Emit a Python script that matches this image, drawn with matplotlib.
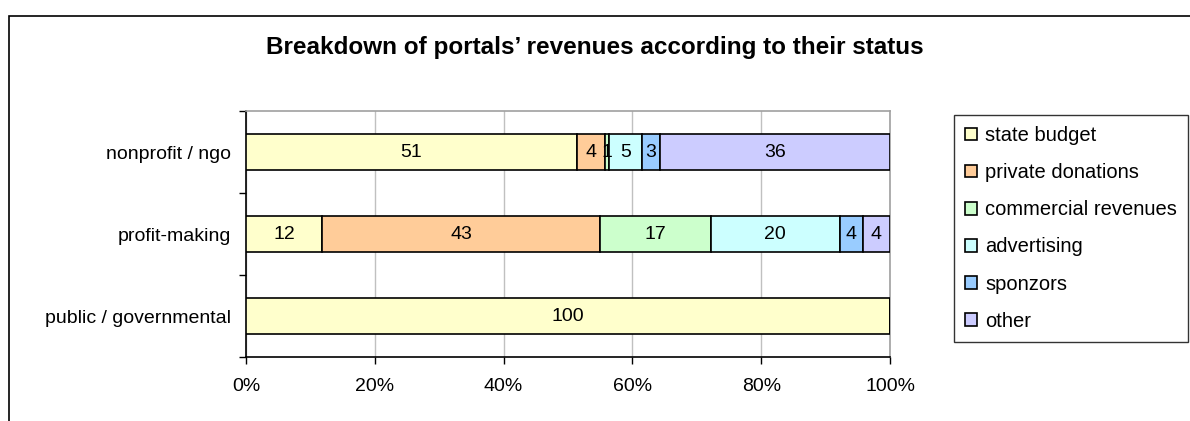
import matplotlib.pyplot as plt
from matplotlib.patches import Patch, Rectangle

plt.rcParams['font.family'] = ['Liberation Sans', 'DejaVu Sans']

# categories (bottom to top) and revenue shares in %
categories = ['public / governmental', 'profit-making', 'nonprofit / ngo']
sources = ['state budget', 'private donations', 'commercial revenues',
           'advertising', 'sponzors', 'other']
colors = ['#FFFFCC', '#FFCC99', '#CCFFCC', '#CCFFFF', '#99CCFF', '#CCCCFF']

state_budget = [100, 11.8, 51.4]
private_donations = [0, 43.2, 4.3]
commercial_revenues = [0, 17.2, 0.6]
advertising = [0, 20.0, 5.2]
sponsors = [0, 3.6, 2.8]
other = [0, 4.2, 35.7]

series = [state_budget, private_donations, commercial_revenues,
          advertising, sponsors, other]

fig = plt.figure(figsize=(11.9, 4.21), dpi=100)
ax = fig.add_axes([0.2067, 0.152, 0.5412, 0.5843])

y = list(range(len(categories)))
left = [0] * len(categories)
for vals, col in zip(series, colors):
    bars = ax.barh(y, vals, left=left, height=0.43, color=col,
                   edgecolor='black', linewidth=1.2, zorder=3)
    for b, v in zip(bars, vals):
        if v > 0:
            ax.text(b.get_x() + b.get_width() / 2, b.get_y() + b.get_height() / 2,
                    f'{round(v):d}', ha='center', va='center', fontsize=14,
                    zorder=4)
    left = [l + v for l, v in zip(left, vals)]

ax.set_xlim(0, 100)
ax.set_ylim(-0.5, 2.5)
ax.set_xticks([0, 20, 40, 60, 80, 100])
ax.set_xticklabels(['0%', '20%', '40%', '60%', '80%', '100%'], fontsize=14)
ax.tick_params(axis='x', length=5, width=1, direction='out', pad=10)
ax.xaxis.grid(True, color='#c0c0c0', linewidth=1, zorder=0)

# major ticks at category boundaries, labels at centres
ax.set_yticks([-0.5, 0.5, 1.5, 2.5])
ax.set_yticklabels([])
ax.tick_params(axis='y', which='major', length=5, width=1, direction='out')
ax.set_yticks(y, minor=True)
ax.set_yticklabels(categories, minor=True, fontsize=14)
ax.tick_params(axis='y', which='minor', length=0, pad=11)

ax.spines['left'].set_color('black')
ax.spines['bottom'].set_color('black')
ax.spines['top'].set_color('#a0a0a0')
ax.spines['right'].set_color('#a0a0a0')
for s in ax.spines.values():
    s.set_linewidth(1.2)

fig.text(0.5, 0.886, 'Breakdown of portals’ revenues according to their status',
         ha='center', va='center', fontsize=17.5, fontweight='bold')

handles = [Patch(facecolor=c, edgecolor='black', linewidth=1.2) for c in colors]
leg = fig.legend(handles, sources, loc='upper left',
                 bbox_to_anchor=(954 / 1190, 1 - 115 / 421), fontsize=14.5,
                 frameon=True, fancybox=False, handlelength=0.6,
                 handleheight=0.6, handletextpad=0.4, labelspacing=0.9,
                 borderpad=0.55, borderaxespad=0)
leg.get_frame().set_edgecolor('black')
leg.get_frame().set_linewidth(1)

# outer chart frame
fig.patches.append(Rectangle((8.5 / 1190, -0.05), 1.1, 0.963 + 0.05,
                             transform=fig.transFigure, fill=False,
                             edgecolor='black', linewidth=1.2))

fig.savefig('out.png', dpi=100)
